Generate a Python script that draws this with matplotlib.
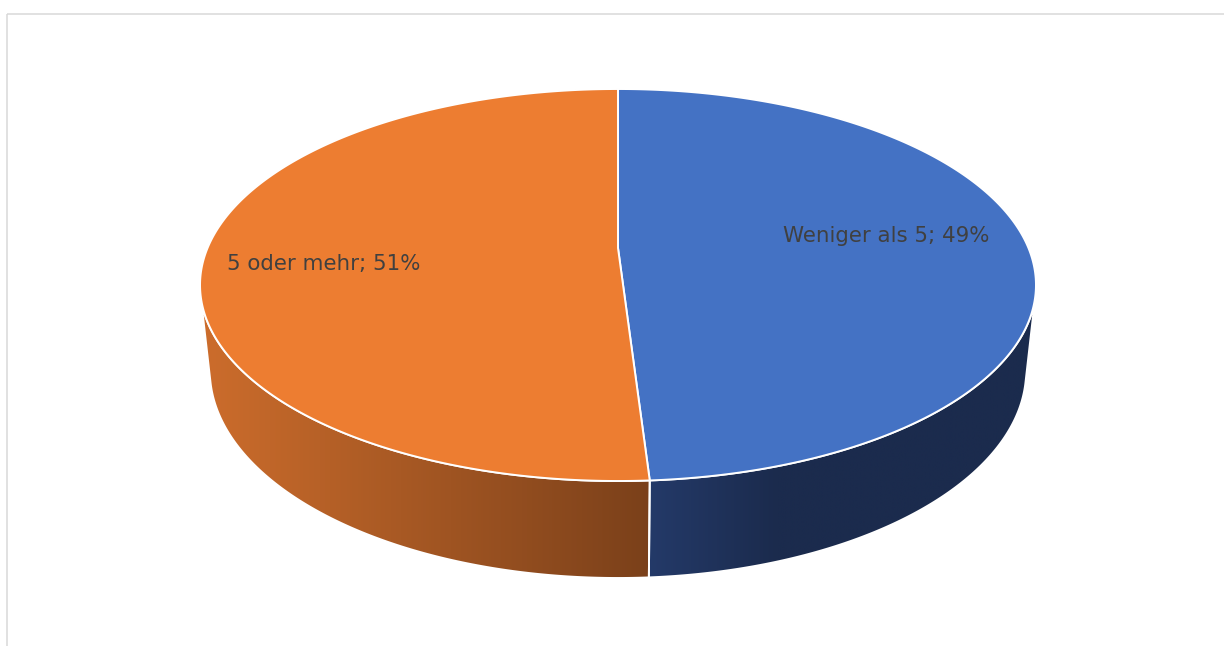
import numpy as np
import matplotlib
matplotlib.use("Agg")
import matplotlib.pyplot as plt
from matplotlib.patches import Polygon, Rectangle
from matplotlib.colors import to_rgb

# --- data -------------------------------------------------------------
categories = ["Weniger als 5", "5 oder mehr"]
shares = [49, 51]                       # percent
top_colors = ["#4472C4", "#ED7D31"]
# wall shading: (colour at left end, colour at right end) of each slice's wall
side_colors = [("#243A69", "#1B2B4D"), ("#CD6D2C", "#7A401A")]
# horizontal length (px) over which each wall's shading ramps
side_ramp = [130.0, None]

# --- camera / layout (pixel space of a 1224 x 646 canvas) -------------
W, H = 1224, 646
ELEV = np.radians(27.42)    # viewing elevation
DIST = 4.702                # camera distance in pie radii
THICK = 0.237               # pie thickness in pie radii
SCALE = 1930.0              # projection scale in pixels
CX, CY = 618.0, 248.0       # screen position of the pie centre
START = 90.0                # first slice starts at 12 o'clock, clockwise

ce, se = np.cos(ELEV), np.sin(ELEV)


def project(x, y, z):
    """Perspective projection of pie-space points to canvas pixels."""
    depth = ce * y - se * z + DIST
    u = x / depth
    w = (se * y + ce * z) / depth
    return CX + SCALE * u, CY - SCALE * w


def rim(t0, t1, z, n=240):
    t = np.radians(np.linspace(t0, t1, n))
    return project(np.cos(t), np.sin(t), np.full_like(t, z))


fig = plt.figure(figsize=(W / 100, H / 100), dpi=100)
ax = fig.add_axes([0, 0, 1, 1])
ax.set_xlim(0, W)
ax.set_ylim(H, 0)
ax.axis("off")

# chart-area frame
ax.add_patch(Rectangle((7, 14), 1400, 800, fill=False, ec="#D9D9D9", lw=1.1, zorder=0))

# slice angle ranges (degrees, counter-clockwise positive)
bounds = START - np.concatenate([[0], np.cumsum(shares)]) * 3.6
ranges = [(bounds[i], bounds[i + 1]) for i in range(len(shares))]

# the wall is visible on the front arc between the two silhouette angles
vis_hi = np.degrees(np.arcsin(-1.0 / (DIST * ce)))   # right silhouette
vis_lo = -180.0 - vis_hi                              # left silhouette

# --- walls ------------------------------------------------------------
for (a0, a1), (cl, cr), ramp in zip(ranges, side_colors, side_ramp):
    hi = min(a0, vis_hi)
    lo = max(a1, vis_lo)
    if hi <= lo:
        continue
    tx, ty = rim(hi, lo, 0.0)
    bx, by = rim(lo, hi, -THICK)
    xs = np.concatenate([tx, bx])
    ys = np.concatenate([ty, by])
    verts = np.column_stack([xs, ys])
    x0, x1 = xs.min() - 2, xs.max() + 2
    grid = np.linspace(0, 1, 600)
    frac = grid if ramp is None else np.clip(grid * (x1 - x0) / ramp, 0, 1)
    c0, c1 = np.array(to_rgb(cl)), np.array(to_rgb(cr))
    img = (c0[None, :] * (1 - frac[:, None]) + c1[None, :] * frac[:, None])[None, :, :]
    im = ax.imshow(img, extent=(x0, x1, ys.max() + 2, ys.min() - 2),
                   aspect="auto", interpolation="bilinear", zorder=2)
    im.set_clip_path(Polygon(verts, closed=True, transform=ax.transData))
    ax.add_patch(Polygon(verts, closed=True, fc="none", ec="white",
                         lw=1.4, joinstyle="round", zorder=3))

# --- top face ---------------------------------------------------------
px0, py0 = project(0.0, 0.0, 0.0)
for (a0, a1), col in zip(ranges, top_colors):
    rx, ry = rim(a0, a1, 0.0)
    xs = np.concatenate([[px0], rx])
    ys = np.concatenate([[py0], ry])
    ax.add_patch(Polygon(np.column_stack([xs, ys]), closed=True, fc=col,
                         ec="white", lw=1.4, joinstyle="round", zorder=4))

ax.set_xlim(0, W)
ax.set_ylim(H, 0)

# --- data labels ------------------------------------------------------
label_pos = [(886, 241.5), (323.5, 269.5)]
for cat, val, (lx, ly) in zip(categories, shares, label_pos):
    ax.text(lx, ly, f"{cat}; {val}%", ha="center", va="baseline",
            fontsize=15.4, color="#404040", family="DejaVu Sans", zorder=5)

fig.savefig("out.png", dpi=100)
